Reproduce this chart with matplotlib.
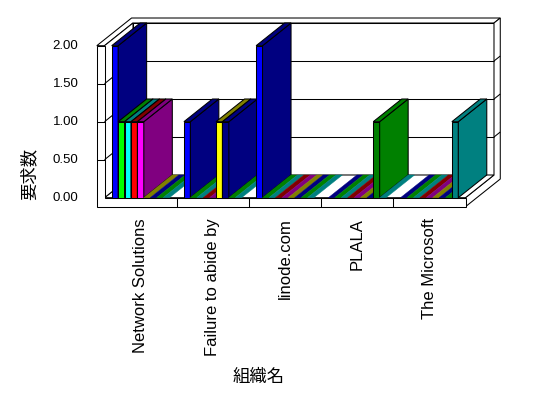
import matplotlib
matplotlib.use("Agg")
import matplotlib.pyplot as plt
from matplotlib.patches import Polygon

plt.rcParams["font.family"] = ["Liberation Sans", "Noto Sans CJK JP", "DejaVu Sans"]

# organisations (x axis) and request counts per series
categories = ["Network Solutions", "Failure to abide by", "linode.com", "PLALA", "The Microsoft"]
network_solutions = [2, 1, 1, 1, 1, 0, 0, 0, 0]
failure_to_abide = [1, 0, 0, 0, 0, 1, 1, 0, 0]
linode = [2, 0, 0, 0, 0, 0, 0, 0, 0]
plala = [0, 0, 0, 0, 0, 0, 0, 1, 0]
microsoft = [0, 0, 0, 0, 0, 0, 0, 0, 1]
counts = [network_solutions, failure_to_abide, linode, plala, microsoft]

yticks = [0.0, 0.5, 1.0, 1.5, 2.0]
ymax = 2.0

# old 16 colour palette: front face colour and the darker top/side colour
front_colors = ["#0000FF", "#00FF00", "#00FFFF", "#FF0000", "#FF00FF",
                "#FFFF00", "#000080", "#008000", "#008080"]
shade_colors = ["#000080", "#008000", "#008080", "#800000", "#800080",
                "#808000", "#000080", "#008000", "#008080"]

# layout in pixels -> data units
W, H = 548, 398
X0, CW = 104.5, 72.2      # left of plot front, pixels per category
Y0, RH = 197.7, 76.0      # zero line of front plane, pixels per unit
DX, DY = 28.5 / CW, 22.7 / RH   # depth offset of the back wall
WT = 7.7 / CW             # left wall thickness
FT = 9.0 / RH             # floor thickness
BT = 0.22                 # back wall thickness (fraction of depth)
GAP = 0.1
BW = (1 - 2 * GAP) / len(front_colors)
LW = 0.75

fig = plt.figure(figsize=(W / 100, H / 100), dpi=100)
ax = fig.add_axes([0, 0, 1, 1])
ax.set_xlim(-X0 / CW, (W - X0) / CW)
ax.set_ylim((Y0 - H) / RH, Y0 / RH)
ax.set_axis_off()

ncat = len(categories)


def proj(x, v, z):
    return (x + z * DX, v + z * DY)


def face(pts, fc="white", ec="black", lw=LW, z=1):
    ax.add_patch(Polygon([proj(*p) for p in pts], closed=True, facecolor=fc,
                         edgecolor=ec, linewidth=lw, zorder=z))


def line(p, q, z=2):
    a, b = proj(*p), proj(*q)
    ax.plot([a[0], b[0]], [a[1], b[1]], color="black", lw=LW, zorder=z,
            solid_capstyle="butt")


zb = 1 + BT
# back wall: front face, top, right side (with floor right side)
face([(0, 0, 1), (ncat, 0, 1), (ncat, ymax, 1), (0, ymax, 1)])
face([(-WT, ymax, 0), (0, ymax, 0), (0, ymax, 1), (ncat, ymax, 1),
      (ncat, ymax, zb), (-WT, ymax, zb)])
face([(ncat, ymax, 1), (ncat, ymax, zb), (ncat, -FT, zb), (ncat, -FT, 0),
      (ncat, 0, 0), (ncat, 0, 1)])
for t in yticks[1:-1]:
    line((0, t, 1), (ncat, t, 1))
    line((ncat, t, 1), (ncat, t, zb))
# floor top
face([(0, 0, 0), (ncat, 0, 0), (ncat, 0, 1), (0, 0, 1)])
# left wall inner face
face([(0, 0, 0), (0, 0, 1), (0, ymax, 1), (0, ymax, 0)])
for t in yticks[1:-1]:
    line((0, t, 0), (0, t, 1))
# front of wall + floor
face([(-WT, -FT, 0), (ncat, -FT, 0), (ncat, 0, 0), (0, 0, 0),
      (0, ymax, 0), (-WT, ymax, 0)])
for t in yticks[1:-1]:
    line((-WT, t, 0), (0, t, 0))
for c in range(1, ncat):
    line((c, 0, 0), (c, -FT, 0))

# bars
for c, vals in enumerate(counts):
    for s, v in enumerate(vals):
        x0 = c + GAP + s * BW
        x1 = x0 + BW
        if v > 0:
            face([(x0, 0, 0), (x1, 0, 0), (x1, v, 0), (x0, v, 0)], fc=front_colors[s], z=3)
            face([(x1, 0, 0), (x1, 0, 1), (x1, v, 1), (x1, v, 0)], fc=shade_colors[s], z=3)
            face([(x0, v, 0), (x1, v, 0), (x1, v, 1), (x0, v, 1)], fc=shade_colors[s], z=3)
        else:
            face([(x0, 0, 0), (x1, 0, 0), (x1, 0, 1), (x0, 0, 1)], fc=shade_colors[s],
                 ec=shade_colors[s], lw=0.3, z=3)

# tick labels
for t in yticks:
    ax.text(-(X0 - 78.5) / CW, t, f"{t:.2f}", ha="right", va="center", fontsize=9.5)
for c, name in enumerate(categories):
    ax.text(c + 0.5, -FT - 0.15, name, rotation=90, ha="center", va="top", fontsize=12)

fig.text(29 / W, 1 - 174 / H, "要求数", rotation=90, ha="center", va="center",
         fontsize=12.5, family=["Noto Sans CJK JP"])
fig.text(259 / W, 1 - 377 / H, "組織名", ha="center", va="center",
         fontsize=12.5, family=["Noto Sans CJK JP"])

fig.savefig("out.png", dpi=100, facecolor="white")
